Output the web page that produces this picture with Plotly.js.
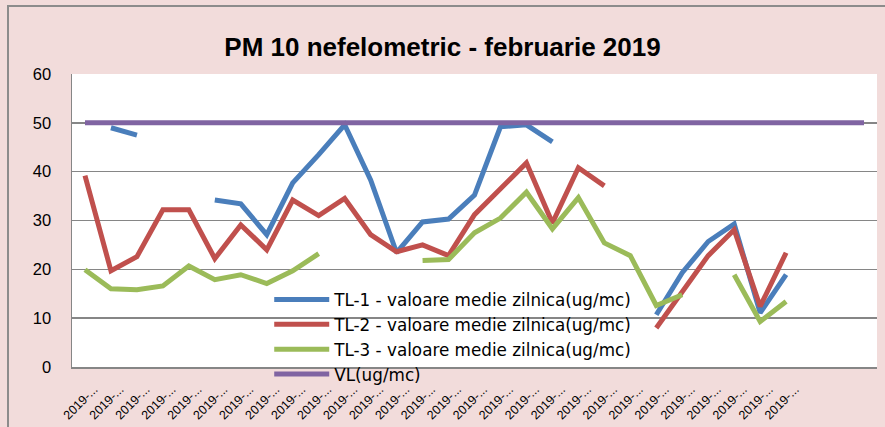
<!DOCTYPE html>
<html>
<head>
<meta charset="utf-8">
<script src="https://cdn.plot.ly/plotly-3.0.1.min.js"></script>
<style>
  html, body { margin: 0; padding: 0; background: #F2DCDB; }
  #wrap { position: relative; width: 885px; height: 427px; }
  #chart { width: 885px; height: 427px; }
  #frame { position: absolute; left: 7px; top: 5px; width: 890px; height: 430px;
           border-left: 2px solid #8C8C8C; border-top: 2px solid #8C8C8C; pointer-events: none; }
</style>
</head>
<body>
<div id="wrap"><div id="chart"></div><div id="frame"></div></div>
<script>
// Dates (31 category slots, only 28 labelled days of February 2019)
const dates = [
  "2019-02-01","2019-02-02","2019-02-03","2019-02-04","2019-02-05","2019-02-06","2019-02-07",
  "2019-02-08","2019-02-09","2019-02-10","2019-02-11","2019-02-12","2019-02-13","2019-02-14",
  "2019-02-15","2019-02-16","2019-02-17","2019-02-18","2019-02-19","2019-02-20","2019-02-21",
  "2019-02-22","2019-02-23","2019-02-24","2019-02-25","2019-02-26","2019-02-27","2019-02-28",
  "", "", ""
];
const tickLabels = [
  "2019-...","2019-...","2019-...","2019-...","2019-...","2019-...","2019-...",
  "2019-...","2019-...","2019-...","2019-...","2019-...","2019-...","2019-...",
  "2019-...","2019-...","2019-...","2019-...","2019-...","2019-...","2019-...",
  "2019-...","2019-...","2019-...","2019-...","2019-...","2019-...","2019-...",
  "", "", ""
];
const tl1 = [null, 49.0, 47.5, null, null, 34.2, 33.4, 27.1, 37.7, 43.5, 49.6, 38.3, 23.4, 29.7,
  30.3, 35.2, 49.2, 49.6, 46.1, null, null, null, 10.7, 19.3, 25.7, 29.3, 11.1, 18.9, null, null, null];
const tl2 = [39.2, 19.7, 22.6, 32.2, 32.2, 22.2, 29.1, 24.0, 34.2, 31.0, 34.5, 27.1, 23.6, 25.0,
  22.8, 31.2, 36.5, 41.8, 29.5, 40.8, 37.1, null, 8.0, 15.3, 22.8, 28.1, 12.4, 23.4, null, null, null];
const tl3 = [19.9, 16.0, 15.8, 16.6, 20.7, 17.9, 18.9, 17.1, 19.7, 23.2, null, null, null, 21.8,
  22.0, 27.5, 30.5, 35.8, 28.3, 34.7, 25.4, 22.8, 12.6, 14.8, null, 18.9, 9.3, 13.4, null, null, null];
const vl = [50, 50, 50, 50, 50, 50, 50, 50, 50, 50, 50, 50, 50, 50, 50, 50,
  50, 50, 50, 50, 50, 50, 50, 50, 50, 50, 50, 50, 50, 50, 50];
const seriesNames = [
  "TL-1 - valoare medie zilnica(ug/mc)",
  "TL-2 - valoare medie zilnica(ug/mc)",
  "TL-3 - valoare medie zilnica(ug/mc)",
  "VL(ug/mc)"
];
const yTicks = [0, 10, 20, 30, 40, 50, 60];

const xIdx = dates.map((d, i) => i);
// rotated labels sit slightly right of each category, as in the source chart
const labelPos = xIdx.map(i => i + 0.35);
const colors = ["#4A7EBB", "#C0504D", "#9BBB59", "#8064A2"];
const all = [tl1, tl2, tl3, vl];

const traces = all.map((ys, k) => ({
  type: "scatter",
  mode: "lines",
  x: xIdx,
  y: ys,
  name: seriesNames[k],
  line: { color: colors[k], width: 5, shape: "linear" },
  connectgaps: false,
  hoverinfo: "skip"
}));

const font = "Liberation Sans, Arial, sans-serif";
const legFont = "DejaVu Sans, Verdana, sans-serif";

const layout = {
  width: 885,
  height: 427,
  paper_bgcolor: "rgba(0,0,0,0)",
  plot_bgcolor: "#FFFFFF",
  margin: { l: 72, r: 8, t: 74, b: 60 },
  title: {
    text: "<b>PM 10 nefelometric - februarie 2019</b>",
    font: { family: font, size: 26, color: "#000000" },
    x: 0.5, xref: "container", xanchor: "center",
    y: 0.89, yref: "container", yanchor: "middle"
  },
  xaxis: {
    range: [-0.5, dates.length - 0.5],
    tickmode: "array",
    tickvals: labelPos,
    ticktext: tickLabels,
    tickangle: -45,
    tickfont: { family: font, size: 12.5, color: "#000000" },
    showgrid: false,
    zeroline: false,
    showline: true,
    linecolor: "#868686",
    linewidth: 2,
    ticks: "",
    ticklabelstandoff: 8,
    fixedrange: true
  },
  yaxis: {
    range: [0, 60],
    tickmode: "array",
    tickvals: yTicks,
    tickfont: { family: font, size: 16.5, color: "#000000" },
    showgrid: true,
    gridcolor: "#868686",
    gridwidth: 1.5,
    zeroline: false,
    showline: true,
    linecolor: "#868686",
    linewidth: 1.5,
    ticks: "",
    ticklabelstandoff: 16,
    fixedrange: true
  },
  showlegend: true,
  legend: {
    x: 0.245, xanchor: "left",
    y: 0.29, yanchor: "top",
    bgcolor: "rgba(0,0,0,0)",
    borderwidth: 0,
    font: { family: legFont, size: 16.8, color: "#000000" },
    traceorder: "normal",
    tracegroupgap: 0,
    itemwidth: 55
  }
};

Plotly.newPlot("chart", traces, layout, { displayModeBar: false, staticPlot: true });
</script>
</body>
</html>
